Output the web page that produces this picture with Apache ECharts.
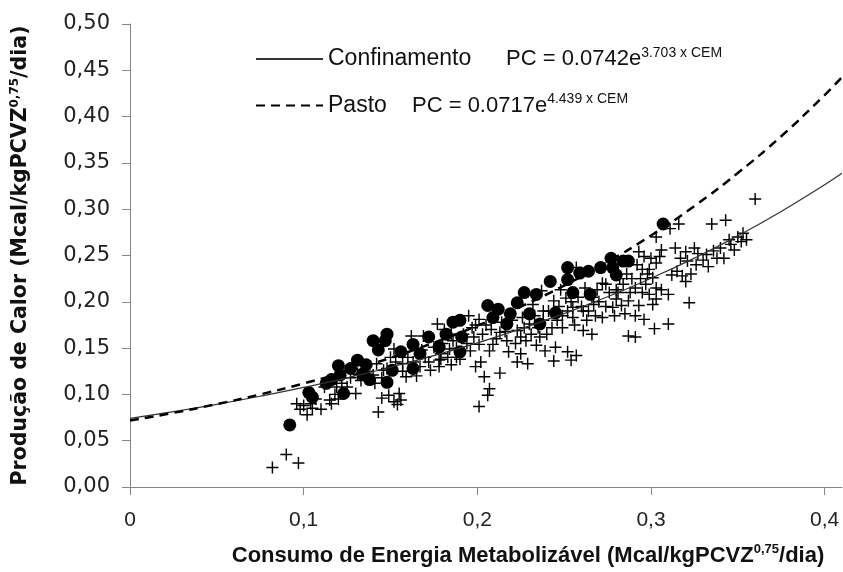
<!DOCTYPE html>
<html>
<head>
<meta charset="utf-8">
<script src="https://cdn.jsdelivr.net/npm/echarts@6/dist/echarts.min.js"></script>
<style>
  html, body { margin: 0; padding: 0; background: #fff; }
  #chart { width: 843px; height: 572px; }
</style>
</head>
<body>
<div id="chart"></div>
<script>
var curveX = [0, 0.025, 0.05, 0.075, 0.1, 0.125, 0.15, 0.175, 0.2, 0.225, 0.25, 0.275, 0.3, 0.325, 0.35, 0.375, 0.4, 0.41];
var confCurveY = [0.0742, 0.0814, 0.0893, 0.0980, 0.1075, 0.1179, 0.1293, 0.1419, 0.1556, 0.1707, 0.1873, 0.2054, 0.2254, 0.2472, 0.2712, 0.2975, 0.3264, 0.3387];
var pastoCurveY = [0.0717, 0.0801, 0.0895, 0.1000, 0.1118, 0.1249, 0.1395, 0.1559, 0.1742, 0.1947, 0.2175, 0.2430, 0.2716, 0.3034, 0.3391, 0.3788, 0.4233, 0.4425];

// observacoes a pasto (circulos)
var pastoPts = [
  [0.092, 0.067], [0.103, 0.102], [0.105, 0.097], [0.113, 0.112], [0.116, 0.116], [0.120, 0.131],
  [0.121, 0.121], [0.123, 0.101], [0.127, 0.128], [0.131, 0.137], [0.134, 0.122], [0.136, 0.132],
  [0.138, 0.116], [0.140, 0.158], [0.143, 0.148], [0.147, 0.158], [0.148, 0.165], [0.148, 0.113],
  [0.151, 0.126], [0.156, 0.146], [0.163, 0.154], [0.163, 0.128], [0.167, 0.144], [0.172, 0.162],
  [0.178, 0.151], [0.182, 0.165], [0.186, 0.178], [0.190, 0.180], [0.191, 0.162], [0.190, 0.146],
  [0.206, 0.196], [0.209, 0.183], [0.212, 0.192], [0.217, 0.176], [0.219, 0.187], [0.223, 0.199],
  [0.227, 0.210], [0.230, 0.187], [0.234, 0.208], [0.236, 0.176], [0.242, 0.222], [0.245, 0.188],
  [0.252, 0.237], [0.252, 0.224], [0.255, 0.210], [0.259, 0.231], [0.264, 0.233], [0.265, 0.208],
  [0.271, 0.237], [0.277, 0.247], [0.278, 0.237], [0.280, 0.229], [0.284, 0.244], [0.287, 0.244],
  [0.307, 0.284]
];

// observacoes em confinamento (cruzes)
var confPts = [
  [0.082, 0.021], [0.090, 0.035], [0.097, 0.026], [0.096, 0.090], [0.098, 0.084], [0.102, 0.078],
  [0.104, 0.090], [0.110, 0.084], [0.116, 0.090], [0.115, 0.094], [0.112, 0.108], [0.119, 0.108],
  [0.125, 0.108], [0.130, 0.101], [0.131, 0.122], [0.132, 0.121], [0.140, 0.121], [0.142, 0.133],
  [0.143, 0.081], [0.145, 0.096], [0.146, 0.126], [0.149, 0.099], [0.150, 0.140], [0.152, 0.149],
  [0.152, 0.092], [0.154, 0.089], [0.155, 0.101], [0.156, 0.094], [0.157, 0.133], [0.159, 0.119],
  [0.162, 0.163], [0.167, 0.130], [0.169, 0.163], [0.173, 0.126], [0.175, 0.151], [0.177, 0.176],
  [0.178, 0.130], [0.179, 0.138], [0.178, 0.137], [0.179, 0.144], [0.184, 0.149], [0.188, 0.140],
  [0.196, 0.147], [0.198, 0.162], [0.199, 0.130], [0.201, 0.181], [0.201, 0.154], [0.201, 0.087],
  [0.202, 0.135], [0.204, 0.119], [0.206, 0.099], [0.207, 0.106], [0.207, 0.147], [0.209, 0.154],
  [0.213, 0.123], [0.213, 0.167], [0.217, 0.158], [0.218, 0.146], [0.223, 0.135], [0.223, 0.169],
  [0.225, 0.144], [0.225, 0.162], [0.226, 0.183], [0.228, 0.158], [0.229, 0.133], [0.230, 0.176],
  [0.232, 0.197], [0.234, 0.153], [0.236, 0.162], [0.237, 0.212], [0.238, 0.190], [0.239, 0.147],
  [0.240, 0.165], [0.244, 0.136], [0.244, 0.201], [0.245, 0.151], [0.246, 0.180], [0.248, 0.213],
  [0.249, 0.172], [0.251, 0.204], [0.252, 0.146], [0.254, 0.137], [0.255, 0.194], [0.255, 0.183],
  [0.257, 0.142], [0.257, 0.237], [0.261, 0.169], [0.261, 0.190], [0.263, 0.180], [0.266, 0.165],
  [0.267, 0.197], [0.269, 0.213], [0.272, 0.183], [0.274, 0.219], [0.278, 0.194], [0.280, 0.213],
  [0.280, 0.203], [0.281, 0.210], [0.283, 0.196], [0.284, 0.219], [0.285, 0.187], [0.287, 0.163],
  [0.287, 0.201], [0.288, 0.210], [0.291, 0.215], [0.291, 0.185], [0.291, 0.162], [0.293, 0.254],
  [0.293, 0.196], [0.295, 0.235], [0.295, 0.210], [0.296, 0.249], [0.296, 0.181], [0.297, 0.219],
  [0.299, 0.235], [0.299, 0.208], [0.300, 0.247], [0.301, 0.226], [0.301, 0.197], [0.302, 0.171],
  [0.303, 0.270], [0.303, 0.242], [0.303, 0.215], [0.303, 0.203], [0.305, 0.249], [0.306, 0.256],
  [0.306, 0.213], [0.310, 0.208], [0.310, 0.176], [0.311, 0.279], [0.312, 0.229], [0.314, 0.258],
  [0.315, 0.233], [0.316, 0.284], [0.317, 0.247], [0.318, 0.228], [0.320, 0.254], [0.320, 0.222],
  [0.321, 0.244], [0.322, 0.199], [0.325, 0.258], [0.327, 0.252], [0.332, 0.251], [0.333, 0.238],
  [0.335, 0.284], [0.338, 0.247], [0.342, 0.247], [0.343, 0.288], [0.345, 0.267], [0.348, 0.256],
  [0.353, 0.274], [0.355, 0.267], [0.360, 0.311],
  [0.100, 0.088], [0.105, 0.085], [0.107, 0.095], [0.118, 0.100], [0.122, 0.112], [0.127, 0.118],
  [0.120, 0.095], [0.133, 0.115], [0.137, 0.125], [0.141, 0.112], [0.145, 0.118], [0.148, 0.128],
  [0.153, 0.135], [0.157, 0.125], [0.160, 0.140], [0.163, 0.135], [0.165, 0.120], [0.168, 0.148],
  [0.170, 0.140], [0.172, 0.135], [0.180, 0.155], [0.183, 0.140], [0.186, 0.158], [0.188, 0.150],
  [0.192, 0.165], [0.194, 0.155], [0.197, 0.172], [0.185, 0.132], [0.190, 0.138], [0.181, 0.170],
  [0.185, 0.165], [0.195, 0.185], [0.199, 0.175], [0.203, 0.165], [0.205, 0.175], [0.208, 0.170],
  [0.211, 0.160], [0.214, 0.178], [0.216, 0.168], [0.220, 0.180], [0.222, 0.155], [0.227, 0.172],
  [0.231, 0.165], [0.233, 0.185], [0.235, 0.172], [0.238, 0.180], [0.241, 0.190], [0.243, 0.172],
  [0.247, 0.195], [0.249, 0.185], [0.252, 0.190], [0.254, 0.200], [0.256, 0.175], [0.258, 0.205],
  [0.260, 0.195], [0.262, 0.215], [0.264, 0.190], [0.266, 0.205], [0.268, 0.185], [0.270, 0.200],
  [0.272, 0.220], [0.274, 0.195], [0.276, 0.210], [0.279, 0.185], [0.282, 0.225], [0.286, 0.230],
  [0.289, 0.225], [0.292, 0.240], [0.294, 0.225], [0.298, 0.230], [0.323, 0.230], [0.326, 0.240],
  [0.330, 0.245], [0.336, 0.255], [0.340, 0.258], [0.346, 0.262], [0.350, 0.270], [0.352, 0.265]
];

var xTicks = [0, 0.1, 0.2, 0.3, 0.4];

function zip(xs, ys) {
  return xs.map(function(x, i) { return [x, ys[i]]; });
}

var crossPath = 'path://M0,44h100v12h-100zM44,0h12v100h-12z';
var axisGray = '#868686';

var chart = echarts.init(document.getElementById('chart'), null, { renderer: 'canvas' });

chart.setOption({
  backgroundColor: '#fff',
  animation: false,
  grid: { left: 130, right: 1, top: 24, bottom: 81 },
  legend: {
    data: ['Confinamento', 'Pasto'],
    orient: 'vertical',
    left: 250,
    top: 41,
    itemWidth: 67,
    itemHeight: 14,
    itemGap: 22,
    selectedMode: false,
    formatter: function(name) {
      if (name === 'Confinamento') {
        return '{n1|Confinamento}{e|PC = 0.0742e}{s|3.703 x CEM}';
      }
      return '{n2|Pasto}{e|PC = 0.0717e}{s|4.439 x CEM}';
    },
    textStyle: {
      color: '#111',
      rich: {
        n1: { fontFamily: 'Liberation Sans', fontSize: 23, lineHeight: 26, width: 178 },
        n2: { fontFamily: 'Liberation Sans', fontSize: 23, lineHeight: 26, width: 84 },
        e: { fontFamily: 'Liberation Sans', fontSize: 22, lineHeight: 26 },
        s: { fontFamily: 'Liberation Sans', fontSize: 14, lineHeight: 13, verticalAlign: 'top' }
      }
    }
  },
  xAxis: {
    type: 'value',
    min: 0,
    max: 0.41,
    interval: 0.1,
    splitLine: { show: false },
    axisLine: { onZero: false, lineStyle: { color: axisGray, width: 1 } },
    axisTick: { length: 8, lineStyle: { color: axisGray }, customValues: xTicks },
    axisLabel: {
      customValues: xTicks,
      margin: 23,
      color: '#222',
      fontFamily: 'Liberation Sans',
      fontSize: 21,
      formatter: function(v) { return v === 0 ? '0' : v.toFixed(1).replace('.', ','); }
    },
    name: '{b|Consumo de Energia Metabolizável (Mcal/kgPCVZ}{s|0,75}{b|/dia)}',
    nameLocation: 'middle',
    nameGap: 56,
    nameTextStyle: {
      padding: [0, 0, 0, 84],
      rich: {
        b: { fontFamily: 'Liberation Sans', fontWeight: 'bold', fontSize: 22, lineHeight: 26, color: '#111' },
        s: { fontFamily: 'Liberation Sans', fontWeight: 'bold', fontSize: 13, lineHeight: 13, verticalAlign: 'top', color: '#111' }
      }
    }
  },
  yAxis: {
    type: 'value',
    min: 0,
    max: 0.5,
    interval: 0.05,
    splitLine: { show: false },
    axisLine: { show: true, lineStyle: { color: axisGray, width: 1 } },
    axisTick: { show: true, length: 8, lineStyle: { color: axisGray } },
    axisLabel: {
      margin: 20,
      color: '#222',
      fontFamily: 'DejaVu Sans',
      fontSize: 21,
      formatter: function(v) { return v.toFixed(2).replace('.', ','); }
    },
    name: '{b|Produção de Calor (Mcal/kgPCVZ}{s|0,75}{b|/dia)}',
    nameLocation: 'middle',
    nameRotate: 90,
    nameGap: 97,
    nameTextStyle: {
      rich: {
        b: { fontFamily: 'DejaVu Sans', fontWeight: 'bold', fontSize: 20.5, lineHeight: 24, color: '#111' },
        s: { fontFamily: 'DejaVu Sans', fontWeight: 'bold', fontSize: 12, lineHeight: 12, verticalAlign: 'top', color: '#111' }
      }
    }
  },
  series: [
    {
      name: 'Pasto (obs.)',
      type: 'scatter',
      data: pastoPts,
      symbol: 'circle',
      symbolSize: 13,
      itemStyle: { color: '#000', opacity: 1 },
      z: 2
    },
    {
      name: 'Confinamento (obs.)',
      type: 'scatter',
      data: confPts,
      symbol: crossPath,
      symbolSize: 12,
      itemStyle: { color: '#000', opacity: 1 },
      z: 3
    },
    {
      name: 'Confinamento',
      type: 'line',
      data: zip(curveX, confCurveY),
      smooth: true,
      symbol: 'none',
      itemStyle: { color: 'rgba(0,0,0,0)' },
      lineStyle: { color: '#333', width: 1.2, type: 'solid' },
      z: 4
    },
    {
      name: 'Pasto',
      type: 'line',
      data: zip(curveX, pastoCurveY),
      smooth: true,
      symbol: 'none',
      itemStyle: { color: 'rgba(0,0,0,0)' },
      lineStyle: { color: '#000', width: 2.5, type: [9, 6] },
      z: 4
    }
  ]
});
</script>
</body>
</html>
